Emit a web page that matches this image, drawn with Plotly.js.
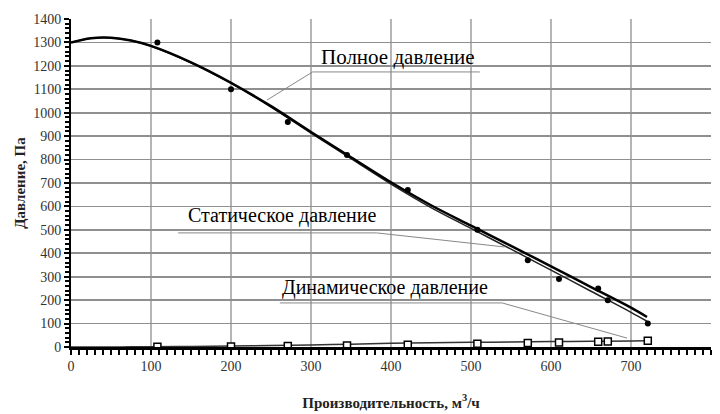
<!DOCTYPE html>
<html><head><meta charset="utf-8">
<script src="https://cdn.plot.ly/plotly-3.0.1.min.js"></script>
<style>html,body{margin:0;padding:0;background:#fff}#chart{width:720px;height:414px}</style>
</head><body><div id="chart"></div>
<script>
// Measured points
const flowPts = [108, 200, 271, 345, 421, 508, 571, 610, 659, 671, 721];
const fullPts = [1300, 1100, 960, 820, 670, 500, 370, 290, 250, 200, 100];
const dynPts  = [0.6, 2, 3.8, 6, 9.2, 13.5, 17, 19, 22.6, 23.3, 27];
// Trend curves
const curveX    = [0, 25, 50, 75, 100, 150, 200, 250, 300, 350, 400, 450, 500, 550, 600, 650, 700, 720];
const fullCurve = [1300, 1318, 1320, 1308, 1285, 1215, 1128, 1028, 918, 810, 703, 605, 518, 432, 344, 256, 168, 128];
const statCurve = [1300, 1318, 1320, 1308, 1284, 1213, 1125, 1024, 913, 804, 695, 595, 506, 418, 328, 238, 148, 110];
const dynCurve  = [0, 0.1, 0.3, 0.6, 1, 2.3, 4, 6.2, 9, 12.2, 15.9, 18, 20, 21.5, 23, 24.5, 26, 27];
const labels = ["Полное давление", "Статическое давление", "Динамическое давление"];

const serif = 'Liberation Serif';

const traces = [
  {x: curveX, y: statCurve, mode: 'lines', line: {color: '#222', width: 1.5, shape: 'spline'}, hoverinfo: 'skip'},
  {x: curveX, y: fullCurve, mode: 'lines', line: {color: '#000', width: 2.5, shape: 'spline'}, hoverinfo: 'skip'},
  {x: curveX, y: dynCurve, mode: 'lines', line: {color: '#333', width: 1.5, shape: 'spline'}, hoverinfo: 'skip'},
  {x: flowPts, y: fullPts, mode: 'markers', marker: {symbol: 'circle', size: 6, color: '#000'}},
  {x: flowPts, y: dynPts, mode: 'markers', marker: {symbol: 'square', size: 7, color: '#fff', line: {color: '#000', width: 1.5}}}
];

const annFont = {family: serif, size: 20, color: '#000'};
const layout = {
  width: 720, height: 414,
  margin: {l: 71, r: 9, t: 19, b: 67},
  paper_bgcolor: '#fff', plot_bgcolor: '#fff',
  showlegend: false,
  xaxis: {
    range: [0, 800], dtick: 100, tick0: 0,
    showgrid: true, gridcolor: '#b5b5b5', gridwidth: 1.3,
    zeroline: false, showline: true, linecolor: '#000', linewidth: 2.5,
    ticks: 'outside', ticklen: 5, tickwidth: 2, tickcolor: '#000',
    minor: {dtick: 10, ticks: 'outside', ticklen: 5, tickwidth: 2, tickcolor: '#000', showgrid: false},
    tickfont: {family: serif, size: 14, color: '#333'},
    title: {text: '<b>Производительность, м<sup>3</sup>/ч</b>', font: {family: serif, size: 15, color: '#222'}, standoff: 24}
  },
  yaxis: {
    range: [0, 1400], dtick: 100, tick0: 0,
    showgrid: true, gridcolor: '#8f8f8f', gridwidth: 1.6,
    zeroline: false, showline: true, linecolor: '#000', linewidth: 2,
    ticks: 'outside', ticklen: 5, tickwidth: 2, tickcolor: '#000',
    minor: {dtick: 20, ticks: 'outside', ticklen: 4, tickwidth: 2, tickcolor: '#000', showgrid: false},
    tickfont: {family: serif, size: 14, color: '#333'},
    title: {text: '<b>Давление, Па</b>', font: {family: serif, size: 15, color: '#222'}, standoff: 4}
  },
  annotations: [
    {xref: 'x', yref: 'y', x: 409, y: 1238, text: labels[0], showarrow: false, font: {family: serif, size: 21, color: '#000'}},
    {xref: 'x', yref: 'y', x: 264, y: 563, text: labels[1], showarrow: false, font: annFont},
    {xref: 'x', yref: 'y', x: 393, y: 256, text: labels[2], showarrow: false, font: annFont}
  ],
  shapes: [
    {type: 'path', xref: 'x', yref: 'y', path: 'M 511 1174 L 302 1174 L 245 1054', line: {color: '#888', width: 1}},
    {type: 'path', xref: 'x', yref: 'y', path: 'M 134 487 L 382 487 L 542 427', line: {color: '#888', width: 1}},
    {type: 'path', xref: 'x', yref: 'y', path: 'M 261 188 L 539 188 L 695 38', line: {color: '#888', width: 1}}
  ]
};
Plotly.newPlot('chart', traces, layout, {staticPlot: true});
</script></body></html>
